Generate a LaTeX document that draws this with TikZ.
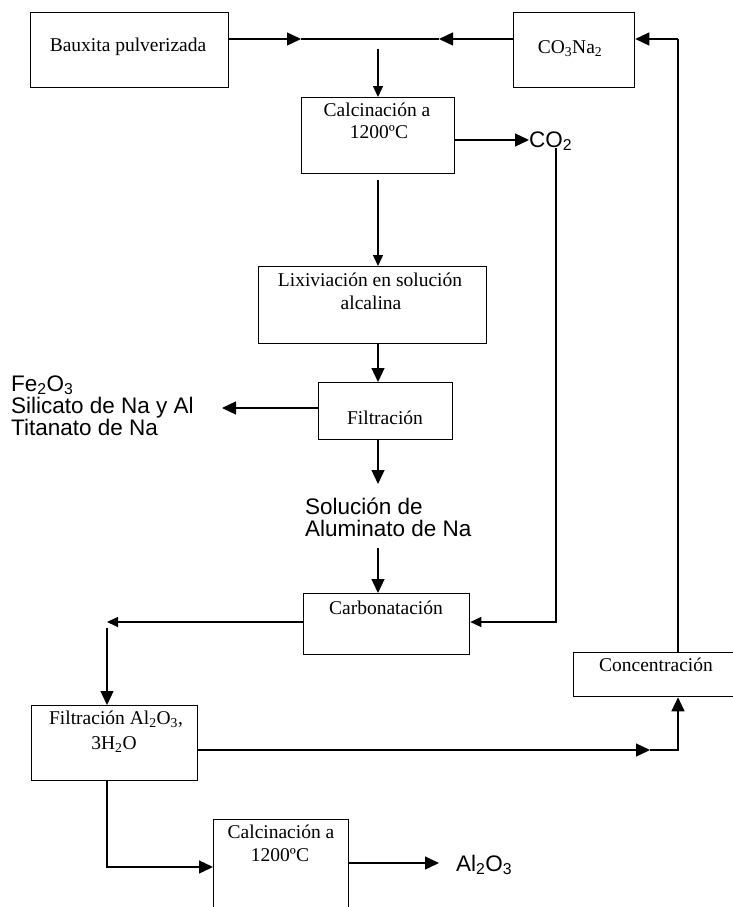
\documentclass[tikz,border=0pt]{standalone}
\usepackage{fontspec}
\setmainfont{Liberation Serif}
\setsansfont{Liberation Sans}
\usetikzlibrary{arrows.meta}

\begin{document}
\begin{tikzpicture}[x=1pt,y=-1pt,
  box/.style={draw, line width=1.3pt, inner sep=0pt, anchor=north west},
  wire/.style={line width=1.3pt},
  arr/.style={wire, -{Triangle[length=14pt,width=13pt]}},
  arrS/.style={wire, -{Triangle[length=11pt,width=10pt]}},
  lbl/.style={inner sep=0pt, anchor=base, font=\fontsize{19.5pt}{22pt}\selectfont},
  sans/.style={inner sep=0pt, anchor=base west, align=left,
    font=\sffamily\fontsize{22.5pt}{22pt}\selectfont}]

\clip (0,0) rectangle (733,907);

% process boxes
\node[box, minimum width=198pt, minimum height=75pt] (baux)  at (30,12)  {};
\node[box, minimum width=121pt, minimum height=75pt] (co3)   at (513,12) {};
\node[box, minimum width=153pt, minimum height=76pt] (calc1) at (301,97) {};
\node[box, minimum width=228pt, minimum height=77pt] (lix)   at (258,266) {};
\node[box, minimum width=134pt, minimum height=57pt] (filt)  at (318,382) {};
\node[box, minimum width=166pt, minimum height=61pt] (carb)  at (303,593) {};
\node[box, minimum width=175pt, minimum height=44pt] (conc)  at (573,652) {};
\node[box, minimum width=166pt, minimum height=75pt] (filt2) at (31,705) {};
\node[box, minimum width=135pt, minimum height=110pt] (calc2) at (213,819) {};

% box texts
\node[lbl] (tbaux)  at (128,51.5)  {Bauxita pulverizada};
\node[lbl] (tco3)   at (570,53.5)  {CO\textsubscript{3}Na\textsubscript{2}};
\node[lbl] (tcalc1a) at (377,116.5) {Calcinación a};
\node[lbl] (tcalc1b) at (379,138.5) {1200ºC};
\node[lbl] (tlixa)  at (370,286.5) {Lixiviación en solución};
\node[lbl] (tlixb)  at (371,309.5) {alcalina};
\node[lbl] (tfilt)  at (385,424.5) {Filtración};
\node[lbl] (tcarb)  at (386,614.5) {Carbonatación};
\node[lbl] (tconc)  at (656,671.5) {Concentración};
\node[lbl] (tfilt2a) at (116,724.5) {Filtración Al\textsubscript{2}O\textsubscript{3},};
\node[lbl] (tfilt2b) at (114,749.5) {3H\textsubscript{2}O};
\node[lbl] (tcalc2a) at (281,838.5) {Calcinación a};
\node[lbl] (tcalc2b) at (280,861.5) {1200ºC};

% stream labels (a multi-line node sits on its last baseline)
\node[sans] (co2)  at (529,147) {CO\textsubscript{2}};
\node[sans] (res)  at (11,435)  {Fe\textsubscript{2}O\textsubscript{3}\\Silicato de Na y Al\\Titanato de Na};
\node[sans] (sol)  at (305,536)  {Solución de\\Aluminato de Na};
\node[sans] (al2o3) at (456,871) {Al\textsubscript{2}O\textsubscript{3}};

% junction points
\coordinate (feedR)   at (301,39);
\coordinate (feedL)   at (439,39);
\coordinate (loopTop) at (678,39);
\coordinate (feedDn)  at (378,49);
\coordinate (co2In)   at (529,140);
\coordinate (co2Dn)   at (556,148);
\coordinate (carbIn)  at (556,622);
\coordinate (c1Out)   at (378,180);
\coordinate (lixOut)  at (378,343);
\coordinate (filtOut) at (378,439);
\coordinate (solTip)  at (378,484);
\coordinate (alumOut) at (378,548);
\coordinate (resTip)  at (222,408);
\coordinate (carbOut) at (107,622);
\coordinate (f2In)    at (107,628);
\coordinate (f2Mid)   at (650,750);
\coordinate (concIn)  at (678,750);
\coordinate (f2Down)  at (107,867);
\coordinate (alIn)    at (439,863);

% feed line
\draw[arr] (baux.east |- feedR) -- (feedR);
\draw[wire] (feedR) -- (feedL);
\draw[arr] (co3.west |- feedL) -- (feedL);
\draw[arr] (loopTop) -- (co3.east |- loopTop);
\draw[wire] (loopTop) -- (loopTop |- conc.north);
\draw[arrS] (feedDn) -- (feedDn |- calc1.north);

% CO2 recycle
\draw[arr] (calc1.east |- co2In) -- (co2In);
\draw[arrS] (co2Dn) -- (carbIn) -- (carb.east |- carbIn);

% main vertical stream
\draw[arrS] (c1Out) -- (c1Out |- lix.north);
\draw[arr] (lixOut) -- (lixOut |- filt.north);
\draw[arr] (filt.west |- resTip) -- (resTip);
\draw[arr] (filtOut) -- (solTip);
\draw[arr] (alumOut) -- (alumOut |- carb.north);

% carbonation products
\draw[arrS] (carb.west |- carbOut) -- (carbOut);
\draw[arr] (f2In) -- (f2In |- filt2.north);
\draw[arr] (filt2.east |- f2Mid) -- (f2Mid);
\draw[arr] (f2Mid) -- (concIn) -- (concIn |- conc.south);
\draw[arr] (filt2.south -| f2Down) -- (f2Down) -- (calc2.west |- f2Down);
\draw[arr] (calc2.east |- alIn) -- (alIn);
\end{tikzpicture}
\end{document}
